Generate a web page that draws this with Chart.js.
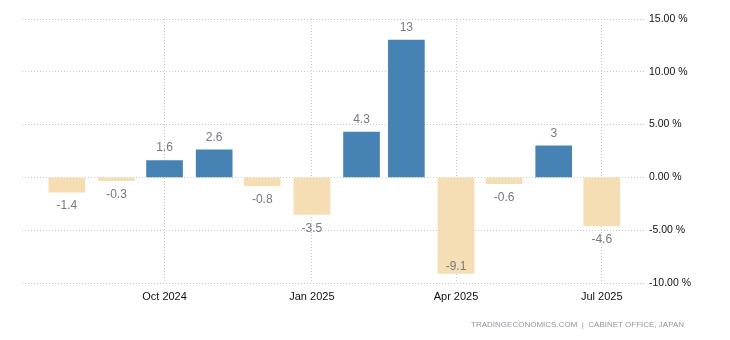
<!DOCTYPE html>
<html>
<head>
<meta charset="utf-8">
<script src="https://cdn.jsdelivr.net/npm/chart.js@4/dist/chart.umd.min.js"></script>
<style>
  body { margin: 0; background: #fff; }
  #wrap { position: relative; width: 730px; height: 340px; }
  #fuente {
    position: absolute; right: 46px; top: 320px;
    font: 8px "Liberation Sans", Arial, sans-serif;
    color: #9a93a0; white-space: pre;
  }
</style>
</head>
<body>
<div id="wrap">
  <canvas id="grafico"></canvas>
  <div id="fuente">TRADINGECONOMICS.COM  |  CABINET OFFICE, JAPAN</div>
</div>
<script>
// Meses (1º dia de cada mês) e valores (%)
const meses = ['2024-08-01', '2024-09-01', '2024-10-01', '2024-11-01', '2024-12-01', '2025-01-01',
               '2025-02-01', '2025-03-01', '2025-04-01', '2025-05-01', '2025-06-01', '2025-07-01'];
const valores = [-1.4, -0.3, 1.6, 2.6, -0.8, -3.5, 4.3, 13, -9.1, -0.6, 3, -4.6];

// Rótulos do eixo X
const ticksX = ['2024-10-01', '2025-01-01', '2025-04-01', '2025-07-01'];
const rotulosX = ['Oct 2024', 'Jan 2025', 'Apr 2025', 'Jul 2025'];
const inicioX = '2024-07-04';
const fimX = '2025-07-28';

// Eixo Y
const ticksY = [-10, -5, 0, 5, 10, 15];

const AZUL = '#4682B4';
const BEGE = '#F5DEB3';

const pontos = meses.map((m, i) => ({ x: Date.parse(m), y: valores[i] }));

// Plugin simples para escrever os valores
const rotulosValores = {
    id: 'rotulosValores',
    afterDatasetsDraw(chart) {
        const ctx = chart.ctx;
        const area = chart.chartArea;
        const meta = chart.getDatasetMeta(0);
        ctx.save();
        ctx.font = '12px "Liberation Sans", Arial, sans-serif';
        ctx.fillStyle = '#7b7683';
        ctx.textAlign = 'center';
        ctx.textBaseline = 'middle';
        meta.data.forEach((barra, i) => {
            const v = valores[i];
            let y;
            if (v >= 0) {
                y = barra.y - 12.5;
            } else {
                y = Math.min(barra.y + 14, area.bottom - 16);
            }
            ctx.fillText(String(v), barra.x, y);
        });
        ctx.restore();
    }
};

const ctx = document.getElementById('grafico').getContext('2d');
new Chart(ctx, {
    type: 'bar',
    data: {
        datasets: [{
            data: pontos,
            backgroundColor: valores.map(v => v >= 0 ? AZUL : BEGE),
            barThickness: 36,
            borderWidth: 0
        }]
    },
    options: {
        responsive: true,
        maintainAspectRatio: false,
        animation: false,
        layout: { padding: { left: 22, top: 19, right: 0, bottom: 0 } },
        plugins: {
            legend: { display: false },
            tooltip: { enabled: false }
        },
        scales: {
            x: {
                type: 'linear',
                offset: false,
                min: Date.parse(inicioX),
                max: Date.parse(fimX),
                afterBuildTicks: s => { s.ticks = ticksX.map(t => ({ value: Date.parse(t) })); },
                afterFit: s => { s.height = 57; },
                grid: { color: '#c8c8c8', drawTicks: false, offset: false },
                border: { display: false, dash: [1, 2] },
                ticks: {
                    padding: 7,
                    color: '#111',
                    font: { family: '"Liberation Sans", Arial, sans-serif', size: 11 },
                    callback: (v, i) => rotulosX[i]
                }
            },
            y: {
                position: 'right',
                min: -10,
                max: 15,
                afterBuildTicks: s => { s.ticks = ticksY.map(t => ({ value: t })); },
                afterFit: s => { s.width = 85; },
                grid: { color: '#c8c8c8', drawTicks: false },
                border: { display: false, dash: [1, 2] },
                ticks: {
                    padding: 4,
                    color: '#111',
                    font: { family: '"Liberation Sans", Arial, sans-serif', size: 10.5 },
                    callback: v => v.toFixed(2) + ' %'
                }
            }
        }
    },
    plugins: [rotulosValores]
});
</script>
</body>
</html>
